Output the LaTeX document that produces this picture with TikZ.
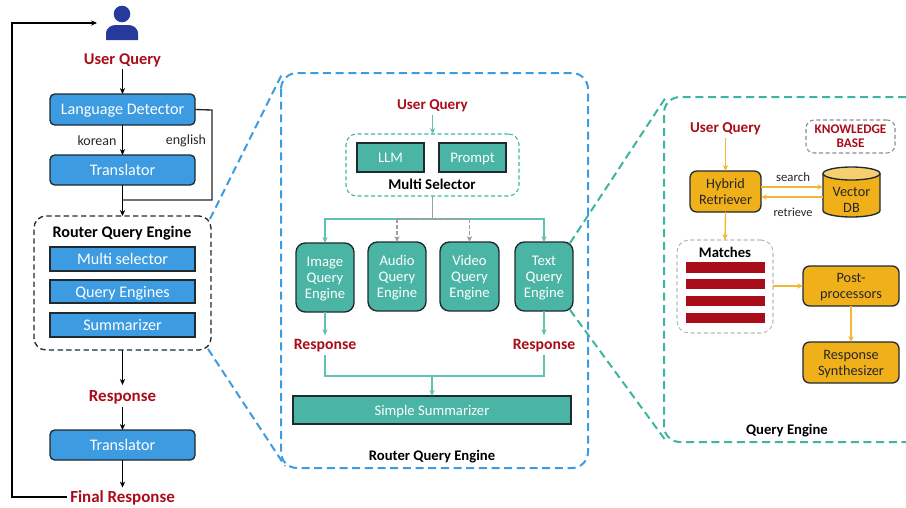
\documentclass[tikz,border=0pt]{standalone}
\usepackage{fontspec}
\setmainfont{Carlito}
\usetikzlibrary{arrows.meta,calc}
\definecolor{cblue}{HTML}{3C9BE1}
\definecolor{cteal}{HTML}{4AB5A5}
\definecolor{cline}{HTML}{62C2B2}
\definecolor{cdash}{HTML}{3DB5A0}
\definecolor{corange}{HTML}{F0B01A}
\definecolor{ctop}{HTML}{F6D06E}
\definecolor{cred}{HTML}{A90D1A}
\definecolor{cdark}{HTML}{1F2A30}
\definecolor{cnavy}{HTML}{27399A}
\definecolor{cgrey}{HTML}{8C8C8C}
\newcommand\bx[7][]{\node[#2,#1,minimum width={(#5-#3)*0.75pt},minimum height={(#6-#4)*0.75pt}] at ({(#3+#5)/2},{(#4+#6)/2}) #7;}
\newcommand\fs[1]{\fontsize{#1}{12}\selectfont}
\tikzset{
 x=0.75pt,y=-0.75pt,
 boxbase/.style={draw=cdark,line width=1pt,inner sep=0pt,outer sep=0pt,align=center,text=white,text depth=0pt,font=\fs{12.1}},
 blueround/.style={boxbase,fill=cblue,rounded corners=3.5pt},
 bluerect/.style={boxbase,fill=cblue},
 tealrect/.style={boxbase,fill=cteal,font=\fs{11}},
 tealround/.style={boxbase,fill=cteal,rounded corners=7pt,font=\fs{11}},
 orangebox/.style={boxbase,fill=corange,text=black!85,rounded corners=5pt,font=\fs{10.7}},
 redlabel/.style={font=\fs{12.3}\bfseries,text=cred,inner sep=1pt,text depth=0pt},
 midred/.style={redlabel,font=\fs{11.3}\bfseries},
 blacklabel/.style={font=\fs{11}\bfseries,text=black,inner sep=1pt,text depth=0pt},
 smalllabel/.style={font=\fs{10.5},text=black!85,inner sep=1pt},
 arrowk/.style={draw=black,line width=1pt,-{Stealth[length=4.5pt,width=4pt]}},
 linek/.style={draw=black!85,line width=1pt},
 arrowt/.style={draw=cline,line width=1pt,-{Stealth[length=4.5pt,width=4pt]}},
 linet/.style={draw=cline,line width=1pt},
 lineg/.style={draw=cgrey!85,line width=1.1pt,dash pattern=on 3pt off 1.5pt},
 arrowg/.style={lineg,-{Stealth[length=4.5pt,width=4pt,fill=cgrey]}},
 arrowo/.style={draw=corange!90!white,line width=1pt,-{Stealth[length=4.5pt,width=4pt]}},
 zoomblue/.style={draw=cblue,line width=1.5pt,dash pattern=on 6pt off 3.5pt},
 zoomteal/.style={draw=cdash,line width=1.5pt,dash pattern=on 6pt off 3.5pt},
}
\begin{document}
\begin{tikzpicture}
\useasboundingbox (0,0) rectangle (906,507);
% person icon
\fill[cnavy] (122,14) circle (8.3);
\fill[cnavy] (106,40) -- (106,34) .. controls (106,27) and (112,25) .. (116,25) -- (128,25) .. controls (132,25) and (138,27) .. (138,34) -- (138,40) -- cycle;
\coordinate (personin) at (97,23);
% left panel
\node[redlabel] (uq1) at (122.5,59) {User Query};
\bx{blueround}{50}{94}{195}{125}{(lang) {Language Detector}}
\bx{blueround}{50}{155}{195}{185}{(tr1) {Translator}}
\node[smalllabel] (kor) at (97,141) {korean};
\node[smalllabel] (eng) at (186,141) {english};
\bx[dash pattern=on 4pt off 2.5pt,fill=none,rounded corners=9pt]{boxbase}{34}{216}{211}{350}{(rqe) {}}
\node[blacklabel,font=\fs{12.1}\bfseries] (rqet) at (122,232) {Router Query Engine};
\bx{bluerect}{50}{247}{195}{271}{(ms) {Multi selector}}
\bx{bluerect}{50}{280}{195}{303}{(qe) {Query Engines}}
\bx{bluerect}{50}{313}{195}{337}{(sm) {Summarizer}}
\node[redlabel,font=\fs{12.7}\bfseries] (resp1) at (122.5,396) {Response};
\bx{blueround}{50}{430}{195}{460}{(tr2) {Translator}}
\node[redlabel,font=\fs{12.7}\bfseries] (fin) at (122.5,497) {Final Response};
\draw[arrowk] (uq1.south)++(0,3) -- (lang.north);
\draw[arrowk] (lang.south) -- (tr1.north);
\draw[arrowk] (tr1.south) -- (rqe.north);
\coordinate (join) at (tr1.south |- 0,200);
\draw[linek] (lang.east) -- (212,110) -- (212,200) -- (join);
\draw[arrowk] (rqe.south) -- ($(resp1.north)+(0,-4)$);
\draw[arrowk] ($(resp1.south)+(0,4)$) -- (tr2.north);
\draw[arrowk] (tr2.south) -- ($(fin.north)+(0,-2)$);
\draw[arrowk] ($(fin.west)+(-2,0)$) -- (12,497) -- (12,23) -- (personin);
% middle panel
\draw[zoomblue,rounded corners=12pt] (281,73) rectangle (588,468);
\coordinate (bz1) at (283,72);
\coordinate (bz2) at (285,466);
\draw[zoomblue] (rqe.north east)++(-1,3) -- (bz1);
\draw[zoomblue] (rqe.south east)++(-3,-1) -- (bz2);
\node[midred] (uq2) at (432.5,105) {User Query};
\bx[draw=cdash,line width=0.8pt,densely dashed,fill=none,rounded corners=8pt]{boxbase}{346}{134}{519}{196}{(msel) {}}
\bx{tealrect}{357}{143}{424}{172}{(llm) {LLM}}
\bx{tealrect}{439}{143}{506}{172}{(pr) {Prompt}}
\node[blacklabel,font=\fs{11.2}\bfseries] (mst) at (432,184) {Multi Selector};
\bx{tealround}{296}{243}{354}{312}{(img) {Image\\Query\\Engine}}
\bx{tealround}{368}{242}{426}{311}{(aud) {Audio\\Query\\Engine}}
\bx{tealround}{440}{242}{499}{311}{(vid) {Video\\Query\\Engine}}
\bx{tealround}{515}{242}{573}{311}{(txt) {Text\\Query\\Engine}}
\node[midred,font=\fs{11.8}\bfseries] (r2) at (325,344) {Response};
\node[midred,font=\fs{11.8}\bfseries] (r3) at (544,344) {Response};
\bx{tealrect}{293}{396}{571}{424}{(ss) {Simple Summarizer}}
\node[blacklabel] (rqe2) at (432,455) {Router Query Engine};
\draw[arrowt] (uq2.south)++(0,3) -- (msel.north);
\coordinate (bus) at (msel.south |- 0,219);
\draw[arrowt] (bus) -| (img.north);
\draw[arrowt] (bus) -| (txt.north);
\draw[linet] (msel.south) -- (bus);
\draw[lineg] (aud.north |- bus) -- (vid.north |- bus);
\draw[lineg] (msel.south) -- (bus);
\draw[arrowg] (aud.north |- bus) -- (aud.north);
\draw[arrowg] (vid.north |- bus) -- (vid.north);
\draw[arrowt] (img.south) -- ($(r2.north)+(0,-2)$);
\draw[arrowt] (txt.south) -- ($(r3.north)+(0,-2)$);
\coordinate (sumj) at (ss.north |- 0,376);
\draw[linet] (r2.south)++(0,4) |- (sumj);
\draw[linet] (r3.south)++(0,4) |- (sumj);
\draw[arrowt] (sumj) -- (ss.north);
% right panel
\coordinate (tr) at (906,97);
\coordinate (br) at (906,442);
\draw[zoomteal,rounded corners=12pt] (tr) -- (664,97) -- (664,442) -- (br);
\coordinate (tz1) at (666,97);
\coordinate (tz2) at (666,441);
\draw[zoomteal] (txt.north east)++(-3,1) -- (tz1);
\draw[zoomteal] (txt.south east)++(-3,-1) -- (tz2);
\node[midred] (uq3) at (725.5,128) {User Query};
\bx{orangebox}{690}{171}{761}{212}{(hy) {Hybrid\\Retriever}}
\bx[draw=cgrey,line width=0.8pt,densely dashed,fill=none,rounded corners=6pt,text=cred,font=\fontsize{9.9}{10.5}\selectfont\bfseries]{boxbase}{806}{120}{895}{153}{(kb) {KNOWLEDGE\\BASE}}
% vector db
\fill[corange] (823,173.5) -- (823,210.5) arc[start angle=180,end angle=0,x radius=28.5,y radius=6.5] -- (880,173.5) -- cycle;
\draw[cdark,line width=1pt] (823,173.5) -- (823,210.5) arc[start angle=180,end angle=0,x radius=28.5,y radius=6.5] -- (880,173.5);
\draw[cdark,line width=1pt,fill=ctop] (851.5,173.5) ellipse[x radius=28.5,y radius=6.5];
\node[draw=none,inner sep=0pt,minimum width=42.75pt,minimum height=27pt,align=center,text=black!85,font=\fs{10.7},text depth=0pt,outer sep=0pt] (vdb) at (851.5,200) {Vector\\DB};
\node[smalllabel,font=\fs{9.6}] (srch) at (793,177) {search};
\node[smalllabel,font=\fs{9.2}] (retr) at (793,212) {retrieve};
\bx[draw=cgrey!60,line width=0.8pt,densely dashed,fill=none,rounded corners=9pt]{boxbase}{677}{240}{773}{333}{(mat) {}}
\node[blacklabel] (matt) at (725,252) {Matches};
\bx[fill=cred,draw=none]{boxbase}{686}{262}{765}{273}{(b1) {}}
\bx[fill=cred,draw=none]{boxbase}{686}{279}{765}{289}{(b2) {}}
\bx[fill=cred,draw=none]{boxbase}{686}{296}{765}{306}{(b3) {}}
\bx[fill=cred,draw=none]{boxbase}{686}{313}{765}{323}{(b4) {}}
\bx{orangebox}{803}{266}{899}{306}{(post) {Post-\\processors}}
\bx{orangebox}{803}{342}{899}{383}{(syn) {Response\\Synthesizer}}
\node[blacklabel] (qet) at (787,429) {Query Engine};
\draw[arrowo] (uq3.south)++(0,3) -- (hy.north);
\draw[arrowo] (hy.south) -- (mat.north);
\draw[arrowo] (hy.east |- 0,187) -- (vdb.west |- 0,187);
\draw[arrowo] (vdb.west |- 0,197) -- (hy.east |- 0,197);
\draw[arrowo] (mat.east |- post.west) -- (post.west);
\draw[arrowo] (post.south) -- (syn.north);
\end{tikzpicture}
\end{document}
